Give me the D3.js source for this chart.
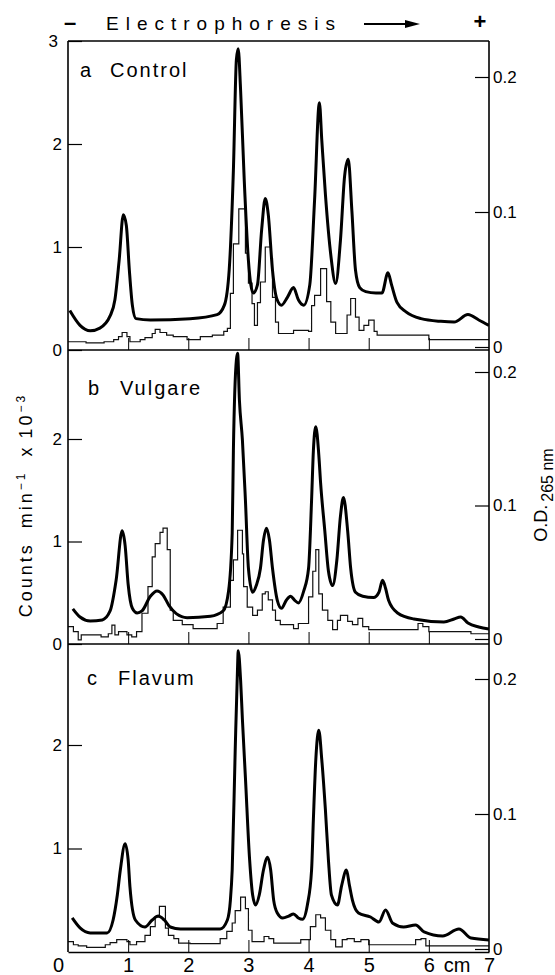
<!DOCTYPE html>
<html>
<head>
<meta charset="utf-8">
<script src="https://cdn.jsdelivr.net/npm/d3@7/dist/d3.min.js"></script>
<style>
  html, body { margin: 0; padding: 0; background: #fff; }
  svg { display: block; font-family: "Liberation Sans", Arial, sans-serif; }
</style>
</head>
<body>
<div id="chart"></div>
<script>
// positions along the gel (cm) and tick values
const cmTicks = [0, 1, 2, 3, 4, 5, 6, 7];
const innerCmTicks = [1, 2, 3, 4, 5, 6];
const countTicksA = [0, 1, 2, 3];
const countTicksB = [0, 1, 2];
const countTicksC = [1, 2];
const odTicks = [0, 0.1, 0.2];

const panelLetters = ["a", "b", "c"];
const panelNames = ["Control", "Vulgare", "Flavum"];

// O.D. 265 nm trace, [cm, OD]
const odControl = [
  [0.03, 0.027], [0.2, 0.016], [0.37, 0.012], [0.53, 0.014], [0.7, 0.023], [0.78, 0.035],
  [0.85, 0.064], [0.92, 0.098], [0.97, 0.090], [1.02, 0.057], [1.07, 0.031], [1.13, 0.021],
  [1.37, 0.020], [2.03, 0.021], [2.48, 0.024], [2.6, 0.031], [2.68, 0.057], [2.75, 0.131],
  [2.8, 0.213], [2.83, 0.221], [2.87, 0.19], [2.93, 0.124], [3.0, 0.064], [3.08, 0.040],
  [3.15, 0.046], [3.22, 0.087], [3.28, 0.110], [3.33, 0.098], [3.4, 0.057], [3.47, 0.036],
  [3.55, 0.031], [3.65, 0.037], [3.75, 0.044], [3.83, 0.035], [3.92, 0.031], [4.02, 0.046],
  [4.1, 0.109], [4.18, 0.181], [4.22, 0.153], [4.28, 0.113], [4.37, 0.068], [4.45, 0.047],
  [4.53, 0.079], [4.6, 0.127], [4.66, 0.139], [4.72, 0.101], [4.78, 0.057], [4.85, 0.044],
  [4.95, 0.041], [5.12, 0.040], [5.22, 0.040], [5.32, 0.055], [5.38, 0.046], [5.47, 0.033],
  [5.62, 0.026], [5.87, 0.021], [6.2, 0.019], [6.42, 0.0185], [6.65, 0.024], [6.83, 0.020],
  [7.0, 0.016]
];
const odVulgare = [
  [0.08, 0.0226], [0.2, 0.0165], [0.37, 0.0135], [0.57, 0.0143], [0.7, 0.021], [0.8, 0.044],
  [0.9, 0.081], [0.95, 0.070], [1.0, 0.041], [1.07, 0.023], [1.15, 0.0195], [1.23, 0.021],
  [1.37, 0.032], [1.48, 0.036], [1.58, 0.033], [1.68, 0.025], [1.8, 0.019], [1.98, 0.016],
  [2.37, 0.017], [2.58, 0.021], [2.67, 0.036], [2.73, 0.079], [2.75, 0.141], [2.8, 0.209],
  [2.82, 0.214], [2.85, 0.179], [2.9, 0.149], [2.95, 0.104], [3.0, 0.053], [3.07, 0.035],
  [3.13, 0.040], [3.2, 0.053], [3.25, 0.074], [3.3, 0.083], [3.35, 0.074], [3.4, 0.053],
  [3.48, 0.029], [3.55, 0.023], [3.63, 0.029], [3.7, 0.032], [3.77, 0.029], [3.83, 0.027],
  [3.92, 0.036], [4.0, 0.053], [4.05, 0.104], [4.08, 0.141], [4.12, 0.159], [4.17, 0.138],
  [4.2, 0.117], [4.27, 0.081], [4.33, 0.051], [4.4, 0.040], [4.47, 0.059], [4.53, 0.092],
  [4.58, 0.106], [4.65, 0.081], [4.7, 0.053], [4.78, 0.035], [4.9, 0.032], [5.08, 0.031],
  [5.17, 0.035], [5.23, 0.044], [5.28, 0.038], [5.33, 0.029], [5.48, 0.0195], [5.75, 0.015],
  [6.25, 0.0128], [6.42, 0.015], [6.53, 0.0165], [6.65, 0.012], [6.83, 0.009], [7.0, 0.0075]
];
const odFlavum = [
  [0.07, 0.023], [0.2, 0.0156], [0.37, 0.0119], [0.65, 0.0119], [0.75, 0.0215], [0.82, 0.040],
  [0.87, 0.0585], [0.95, 0.078], [1.0, 0.066], [1.03, 0.046], [1.12, 0.0215], [1.28, 0.0163],
  [1.4, 0.0215], [1.5, 0.0244], [1.6, 0.0215], [1.7, 0.0163], [1.87, 0.0148], [2.53, 0.0148],
  [2.65, 0.0215], [2.7, 0.036], [2.73, 0.0585], [2.78, 0.147], [2.82, 0.210], [2.83, 0.221],
  [2.87, 0.199], [2.9, 0.170], [2.95, 0.127], [3.02, 0.066], [3.07, 0.040], [3.12, 0.0326],
  [3.18, 0.040], [3.25, 0.0585], [3.32, 0.068], [3.37, 0.0585], [3.42, 0.036], [3.48, 0.0267],
  [3.57, 0.023], [3.67, 0.0244], [3.75, 0.026], [3.83, 0.023], [3.9, 0.022], [3.98, 0.0326],
  [4.05, 0.0585], [4.08, 0.096], [4.12, 0.140], [4.17, 0.162], [4.22, 0.140], [4.28, 0.103],
  [4.33, 0.066], [4.38, 0.040], [4.48, 0.0326], [4.55, 0.047], [4.63, 0.0585], [4.68, 0.047],
  [4.73, 0.036], [4.83, 0.0267], [5.03, 0.0237], [5.17, 0.020], [5.28, 0.0289], [5.4, 0.019],
  [5.58, 0.0163], [5.78, 0.0178], [5.92, 0.0126], [6.23, 0.0096], [6.5, 0.0148], [6.7, 0.0081],
  [7.0, 0.0067]
];

// radioactivity, counts min-1 x 10-3, steps [cm where step starts, value]
const cpmControl = [
  [0, 0.08], [0.3, 0.07], [0.6, 0.08], [0.76, 0.10], [0.84, 0.13], [0.9, 0.17], [0.98, 0.13],
  [1.03, 0.08], [1.2, 0.10], [1.28, 0.12], [1.4, 0.16], [1.45, 0.20], [1.53, 0.17], [1.64, 0.145],
  [1.75, 0.13], [1.98, 0.10], [2.2, 0.13], [2.4, 0.145], [2.59, 0.18], [2.65, 0.21], [2.7, 0.55],
  [2.75, 1.03], [2.84, 1.37], [2.95, 0.94], [3.0, 0.65], [3.06, 0.45], [3.1, 0.24], [3.15, 0.46],
  [3.2, 0.66], [3.28, 1.0], [3.37, 0.89], [3.4, 0.51], [3.45, 0.27], [3.5, 0.16], [3.75, 0.19],
  [4.0, 0.18], [4.05, 0.43], [4.1, 0.53], [4.2, 0.79], [4.3, 0.47], [4.37, 0.27], [4.45, 0.16],
  [4.64, 0.34], [4.7, 0.5], [4.78, 0.32], [4.84, 0.19], [4.92, 0.24], [5.0, 0.29], [5.09, 0.18],
  [5.14, 0.145], [6.0, 0.1], [7.0, 0.1]
];
const cpmVulgare = [
  [0, 0.17], [0.09, 0.12], [0.17, 0.04], [0.22, 0.09], [0.55, 0.07], [0.67, 0.1], [0.73, 0.185],
  [0.78, 0.09], [0.84, 0.12], [0.98, 0.09], [1.06, 0.07], [1.14, 0.12], [1.23, 0.3], [1.33, 0.56],
  [1.4, 0.85], [1.45, 0.98], [1.53, 1.09], [1.58, 1.13], [1.65, 0.92], [1.7, 0.33], [1.75, 0.23],
  [1.9, 0.19], [2.08, 0.15], [2.48, 0.2], [2.58, 0.36], [2.7, 0.62], [2.75, 0.82], [2.82, 1.11],
  [2.9, 0.88], [2.92, 0.56], [2.98, 0.36], [3.07, 0.28], [3.15, 0.33], [3.23, 0.49], [3.28, 0.51],
  [3.33, 0.43], [3.4, 0.33], [3.45, 0.23], [3.53, 0.19], [3.75, 0.15], [3.83, 0.2], [4.0, 0.46],
  [4.07, 0.71], [4.12, 0.92], [4.17, 0.49], [4.23, 0.33], [4.32, 0.23], [4.4, 0.14], [4.48, 0.23],
  [4.53, 0.28], [4.65, 0.22], [4.73, 0.19], [4.82, 0.25], [4.9, 0.17], [5.0, 0.14], [5.82, 0.2],
  [5.9, 0.17], [6.0, 0.12], [6.7, 0.10], [7.0, 0.10]
];
const cpmFlavum = [
  [0, 0.10], [0.09, 0.07], [0.17, 0.06], [0.31, 0.045], [0.62, 0.07], [0.7, 0.09], [0.81, 0.12],
  [0.98, 0.10], [1.03, 0.07], [1.14, 0.10], [1.28, 0.16], [1.37, 0.245], [1.45, 0.34], [1.52, 0.44],
  [1.62, 0.23], [1.67, 0.16], [1.76, 0.13], [1.84, 0.085], [2.03, 0.08], [2.53, 0.13], [2.64, 0.2],
  [2.73, 0.28], [2.78, 0.4], [2.87, 0.53], [2.95, 0.42], [3.0, 0.21], [3.06, 0.1], [3.26, 0.15],
  [3.34, 0.13], [3.42, 0.085], [3.87, 0.12], [4.03, 0.245], [4.12, 0.36], [4.2, 0.33], [4.28, 0.21],
  [4.37, 0.12], [4.45, 0.05], [4.56, 0.12], [4.64, 0.13], [4.76, 0.10], [4.87, 0.12], [5.0, 0.07],
  [5.78, 0.12], [5.87, 0.13], [5.95, 0.06], [7.0, 0.06]
];

const odSeries = [odControl, odVulgare, odFlavum];
const cpmSeries = [cpmControl, cpmVulgare, cpmFlavum];
const countTicks = [countTicksA, countTicksB, countTicksC];

// layout
const width = 555, height = 975;
const left = 68, right = 489;
const layout = [
  { top: 41, bottom: 350, cMax: 3, cTop: 41, odZero: 347, odTop: 77, lx: 80, nx: 110, ly: 77 },
  { top: 350, bottom: 644, cMax: 2, cTop: 439, odZero: 639, odTop: 372, lx: 88, nx: 120, ly: 395 },
  { top: 644, bottom: 952, cMax: 2, cTop: 745, odZero: 949, odTop: 679, lx: 87, nx: 118, ly: 685 }
];

const svg = d3.select("#chart").append("svg").attr("width", width).attr("height", height);

const x = d3.scaleLinear().domain([0, 7]).range([left, right]);

const fmtOd = d => d === 0 ? "0" : d3.format(".1f")(d);

layout.forEach((p, i) => {
  const yC = d3.scaleLinear().domain([0, p.cMax]).range([p.bottom, p.cTop]);
  const yOd = d3.scaleLinear().domain([0, 0.2]).range([p.odZero, p.odTop]);
  const g = svg.append("g");

  g.append("clipPath").attr("id", "clip" + i)
    .append("rect").attr("x", left).attr("y", p.top).attr("width", right - left).attr("height", p.bottom - p.top);

  // histogram of counts
  const step = d3.line().x(d => x(d[0])).y(d => yC(d[1])).curve(d3.curveStepAfter);
  g.append("path")
    .attr("d", step(cpmSeries[i]))
    .attr("clip-path", `url(#clip${i})`)
    .attr("fill", "none").attr("stroke", "#111").attr("stroke-width", 1.2);

  // OD trace
  const smooth = d3.line().x(d => x(d[0])).y(d => yOd(d[1])).curve(d3.curveMonotoneX);
  g.append("path")
    .attr("d", smooth(odSeries[i]))
    .attr("clip-path", `url(#clip${i})`)
    .attr("fill", "none").attr("stroke", "#000").attr("stroke-width", 3)
    .attr("stroke-linejoin", "round");

  // left counts axis, ticks pointing inward
  const ax = g.append("g").attr("transform", `translate(${left},0)`)
    .call(d3.axisLeft(yC).tickValues(countTicks[i]).tickSizeInner(-14).tickSizeOuter(0).tickPadding(6).tickFormat(d3.format("d")));
  ax.select(".domain").remove();
  ax.selectAll("text").attr("font-size", 17).attr("fill", "#000")
    .attr("dx", d => d === 3 ? -4 : 0);
  ax.selectAll("line").attr("stroke-width", 1.2);

  // right OD axis
  const ar = g.append("g").attr("transform", `translate(${right},0)`)
    .call(d3.axisRight(yOd).tickValues(odTicks).tickSizeInner(-14).tickSizeOuter(0).tickPadding(4).tickFormat(fmtOd));
  ar.select(".domain").remove();
  ar.selectAll("text").attr("font-size", 17).attr("fill", "#000");
  ar.selectAll("line").attr("stroke-width", 1.2);

  // cm ticks along bottom of each panel
  const ab = g.append("g").attr("transform", `translate(0,${p.bottom})`)
    .call(d3.axisBottom(x).tickValues(innerCmTicks).tickSizeInner(-12).tickSizeOuter(0).tickFormat(""));
  ab.select(".domain").remove();
  ab.selectAll("line").attr("stroke-width", 1);

  // panel label
  const lab = g.append("text").attr("y", p.ly).attr("font-size", 20).attr("letter-spacing", 2);
  lab.append("tspan").attr("x", p.lx).text(panelLetters[i]);
  lab.append("tspan").attr("x", p.nx).text(panelNames[i]);

  // horizontal frame line
  g.append("line").attr("x1", left).attr("x2", right).attr("y1", p.top).attr("y2", p.top)
    .attr("stroke", "#000").attr("stroke-width", 1.6);
});

// outer frame verticals and bottom
svg.append("line").attr("x1", left).attr("x2", left).attr("y1", 41).attr("y2", 952).attr("stroke", "#000").attr("stroke-width", 1.6);
svg.append("line").attr("x1", right).attr("x2", right).attr("y1", 41).attr("y2", 952).attr("stroke", "#000").attr("stroke-width", 1.6);

// bottom cm axis labels
const axB = svg.append("g").attr("transform", "translate(0,952)")
  .call(d3.axisBottom(x).tickValues(cmTicks).tickSize(0).tickPadding(6).tickFormat(d3.format("d")));
axB.select(".domain").attr("stroke", "#000").attr("stroke-width", 1.6);
axB.selectAll("text").attr("font-size", 20).attr("fill", "#000")
  .attr("dx", d => d === 0 ? -10 : 0);
svg.append("text").attr("x", x(6.47)).attr("y", 972).attr("text-anchor", "middle")
  .attr("font-size", 20).text("cm");

// header
svg.append("text").attr("x", 70).attr("y", 30).attr("text-anchor", "middle")
  .attr("font-size", 22).attr("font-weight", "bold").text("–");
svg.append("text").attr("x", 106).attr("y", 30).attr("font-size", 19)
  .attr("letter-spacing", 7).text("Electrophoresis");
svg.append("line").attr("x1", 364).attr("x2", 408).attr("y1", 24).attr("y2", 24)
  .attr("stroke", "#000").attr("stroke-width", 2);
svg.append("path").attr("d", "M405,20 L420,24 L405,28 Z").attr("fill", "#000");
svg.append("text").attr("x", 480).attr("y", 29).attr("text-anchor", "middle")
  .attr("font-size", 22).attr("font-weight", "bold").text("+");

// axis titles
const yt = svg.append("text").attr("transform", "translate(32,505) rotate(-90)")
  .attr("text-anchor", "middle").attr("font-size", 18).attr("letter-spacing", 3);
yt.append("tspan").text("Counts");
yt.append("tspan").attr("dx", 14).text("min");
yt.append("tspan").attr("dy", -7).attr("font-size", 12).text("−1");
yt.append("tspan").attr("dy", 7).attr("dx", 14).text("x");
yt.append("tspan").attr("dx", 6).text("10");
yt.append("tspan").attr("dy", -7).attr("font-size", 12).text("−3");

const rt = svg.append("text").attr("transform", "translate(547,495) rotate(-90)")
  .attr("text-anchor", "middle").attr("font-size", 18);
rt.append("tspan").text("O.D.");
rt.append("tspan").attr("dy", 6).attr("dx", 3).attr("font-size", 16).text("265 nm");
</script>
</body>
</html>
